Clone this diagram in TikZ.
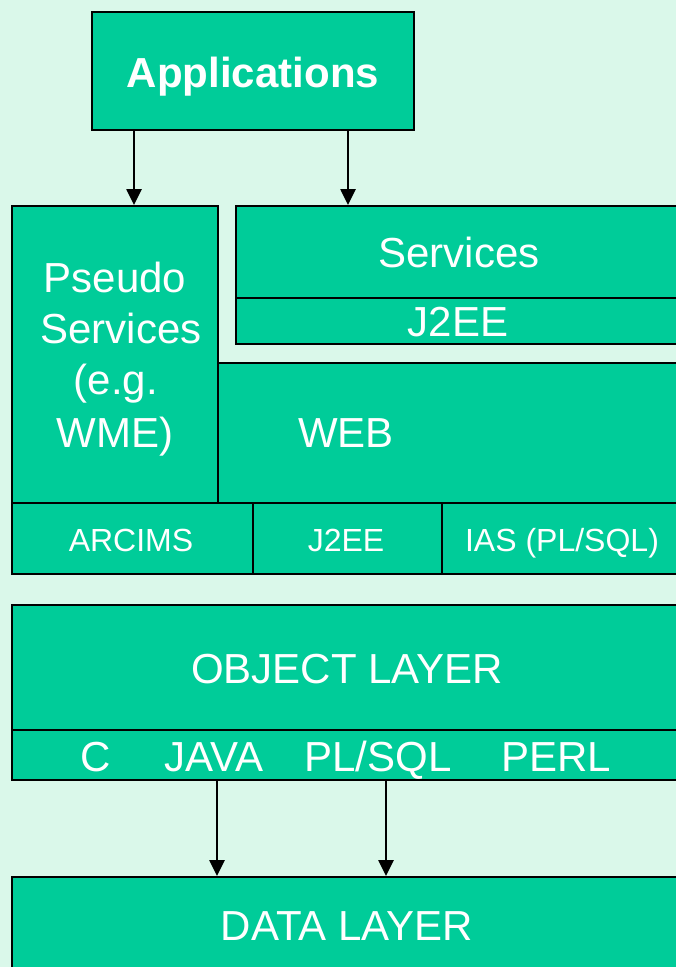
\documentclass[tikz,border=0pt]{standalone}
\usepackage{fontspec}
\setmainfont{Liberation Sans}
\usetikzlibrary{arrows.meta}
\definecolor{bgmint}{HTML}{DAF8EA}
\definecolor{boxgreen}{HTML}{00CC99}
\begin{document}
\begin{tikzpicture}[x=1pt,y=-1pt,
  box/.style={draw=black, line width=2.2pt, fill=boxgreen, rectangle, inner sep=0pt, anchor=north west},
  lbl/.style={text=white, font=\fontsize{42}{50}\selectfont, anchor=base, inner sep=0pt},
  slbl/.style={text=white, font=\fontsize{32}{36}\selectfont, anchor=base, inner sep=0pt},
  arr/.style={line width=2.6pt, -{Triangle[width=15pt,length=16pt]}}]
\fill[bgmint] (0,0) rectangle (676,967);
\useasboundingbox (0,0) rectangle (676,967);
\clip (0,0) rectangle (676,967);

% boxes
\node[box, minimum width=322pt, minimum height=118pt] (app) at (91,11) {};
\node[box, minimum width=206pt, minimum height=297pt] (pseudo) at (11,205) {};
\node[box, minimum width=450pt, minimum height=92pt] (services) at (235,205) {};
\node[box, minimum width=450pt, minimum height=46pt] (j2eeA) at (235,297) {};
\node[box, minimum width=468pt, minimum height=140pt] (web) at (217,362) {};
\node[box, minimum width=241pt, minimum height=71pt] (arcims) at (11,502) {};
\node[box, minimum width=189pt, minimum height=71pt] (j2eeB) at (252,502) {};
\node[box, minimum width=244pt, minimum height=71pt] (ias) at (441,502) {};
\node[box, minimum width=674pt, minimum height=125pt] (object) at (11,604) {};
\node[box, minimum width=674pt, minimum height=50pt] (langs) at (11,729) {};
\node[box, minimum width=674pt, minimum height=110pt] (data) at (11,876) {};

% labels
\node[lbl, font=\fontsize{42}{50}\selectfont\bfseries] (tapp) at (253,87) {Applications};
\node[lbl] (tps1) at (115,292) {Pseudo};
\node[lbl] (tps2) at (121,343) {Services};
\node[lbl] (tps3) at (116,394) {(e.g.};
\node[lbl] (tps4) at (115,447) {WME)};
\node[lbl] (tserv) at (459,267) {Services};
\node[lbl] (tj2eeA) at (458,336) {J2EE};
\node[lbl] (tweb) at (346,447) {WEB};
\node[slbl] (tarc) at (131,551) {ARCIMS};
\node[slbl] (tj2eeB) at (346,551) {J2EE};
\node[slbl] (tias) at (562,551) {IAS (PL/SQL)};
\node[lbl] (tobj) at (347,683) {OBJECT LAYER};
\node[lbl] (tc) at (96,771) {C};
\node[lbl] (tjava) at (214,771) {JAVA};
\node[lbl] (tpl) at (378,771) {PL/SQL};
\node[lbl] (tperl) at (556,771) {PERL};
\node[lbl] (tdata) at (347,940) {DATA LAYER};

% connectors
\path (app.south west) ++(43,0) coordinate (s1);
\path (app.south west) ++(257,0) coordinate (s2);
\path (langs.south west) ++(206,0) coordinate (s3);
\path (langs.south west) ++(375,0) coordinate (s4);
\draw[arr] (s1) -- (s1 |- pseudo.north);
\draw[arr] (s2) -- (s2 |- services.north);
\draw[arr] (s3) -- (s3 |- data.north);
\draw[arr] (s4) -- (s4 |- data.north);
\end{tikzpicture}
\end{document}
